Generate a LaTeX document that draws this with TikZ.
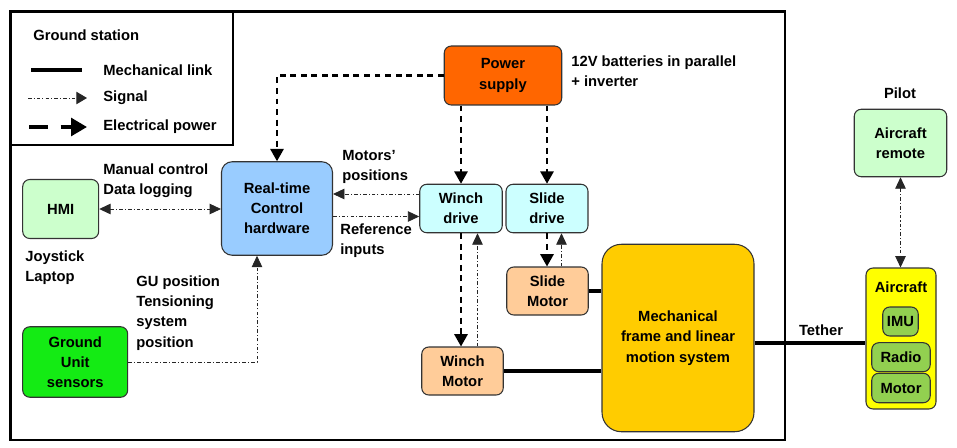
\documentclass[tikz,border=0pt]{standalone}
\usepackage{fontspec}
\setmainfont{Liberation Sans}
\usetikzlibrary{positioning, arrows.meta}
\definecolor{gsorange}{RGB}{255,102,0}
\definecolor{gsblue}{RGB}{153,204,255}
\definecolor{gscyan}{RGB}{204,255,255}
\definecolor{gspeach}{RGB}{255,204,153}
\definecolor{gsgold}{RGB}{255,204,0}
\definecolor{gsmint}{RGB}{204,255,204}
\definecolor{gsgreen}{RGB}{20,235,20}
\definecolor{gsyellow}{RGB}{255,255,0}
\definecolor{gsolive}{RGB}{146,208,80}
\newcommand{\gsfont}{\fontsize{8.4}{11.5}\selectfont\bfseries}
\tikzset{
    block/.style={rectangle, rounded corners=4pt, draw=black!80, fill=#1, line width=0.6pt, align=center, font=\gsfont, inner sep=1pt},
    mech/.style={line width=1.8pt},
    sig/.style={line width=0.5pt, black!85, dash pattern=on 2pt off 1.2pt on 0.6pt off 1.2pt},
    pwr/.style={-{Triangle[length=7pt, width=7.5pt]}, line width=1.3pt, dash pattern=on 3.4pt off 2.6pt},
    txt/.style={font=\gsfont, align=left, anchor=west, inner sep=0pt},
    >={Triangle[length=6.5pt, width=6pt]}
}

\begin{document}
\begin{tikzpicture}[x=0.02cm, y=-0.02cm]
    \useasboundingbox (0,0) rectangle (957,447);
    \draw[line width=1.2pt] (10.5,11.5) rectangle (785,440);
    \draw[line width=0.6pt] (10.5,11.5) rectangle (233,145);

    \node[txt] (gstitle) at (33,35) {Ground station};
    \coordinate (mecha) at (31,70);
    \coordinate (mechb) at (82,70);
    \coordinate (siga) at (28,98);
    \coordinate (sigb) at (87,98);
    \coordinate (pwra) at (29,127);
    \coordinate (pwrb) at (87,127);
    \draw[mech] (mecha) -- (mechb);
    \draw[sig, -{Triangle[length=6pt, width=7pt]}] (siga) -- (sigb);
    \draw[pwr, -{Triangle[length=9pt, width=10pt]}, line width=2pt, dash pattern=on 11pt off 7pt] (pwra) -- (pwrb);
    \node[txt] (lgmech) at (103,70) {Mechanical link};
    \node[txt] (lgsig) at (103,98) {Signal};
    \node[txt] (lgpwr) at (103,127) {Electrical power};

    \node[block=gsorange, minimum width=2.35cm, minimum height=1.18cm] (ps) at (503,75.5) {Power\\supply};
    \node[block=gsblue, rounded corners=6pt, minimum width=2.22cm, minimum height=1.87cm] (rt) at (277,208.5) {Real-time\\Control\\hardware};
    \node[block=gscyan, minimum width=1.65cm, minimum height=0.97cm] (wd) at (461,208.5) {Winch\\drive};
    \node[block=gscyan, minimum width=1.64cm, minimum height=0.97cm] (sd) at (547,208.5) {Slide\\drive};
    \node[block=gspeach, minimum width=1.63cm, minimum height=0.96cm] (sm) at (547.5,291) {Slide\\Motor};
    \node[block=gspeach, minimum width=1.63cm, minimum height=0.96cm] (wm) at (462.5,371) {Winch\\Motor};
    \node[block=gsgold, rounded corners=11pt, minimum width=3.04cm, minimum height=3.75cm] (mf) at (678,338) {Mechanical\\frame and linear\\motion system};
    \node[block=gsmint, minimum width=1.52cm, minimum height=1.18cm] (hmi) at (60.7,209) {HMI};
    \node[block=gsgreen, minimum width=2.1cm, minimum height=1.41cm] (gu) at (75.2,362) {Ground\\Unit\\sensors};
    \node[block=gsmint, minimum width=1.85cm, minimum height=1.35cm] (ar) at (900.5,143) {Aircraft\\remote};
    \node[block=gsyellow, minimum width=1.4cm, minimum height=2.82cm] (ac) at (901,338.5) {};
    \node[font=\gsfont, inner sep=0pt] (actitle) at (901,287) {Aircraft};
    \node[block=gsolive, minimum width=0.71cm, minimum height=0.58cm] (imu) at (900.5,321.5) {IMU};
    \node[block=gsolive, minimum width=1.17cm, minimum height=0.58cm] (radio) at (901,357.2) {Radio};
    \node[block=gsolive, minimum width=1.17cm, minimum height=0.59cm] (motor) at (901,388) {Motor};

    \node[txt] (batlbl) at (571,71) {12V batteries in parallel\\+ inverter};
    \node[txt] (poslbl) at (342,167) {Motors'\\positions};
    \node[txt] (reflbl) at (340,241) {Reference\\inputs};
    \node[txt] (hmilbl) at (103,181) {Manual control\\Data logging};
    \node[txt] (joylbl) at (25,268) {Joystick\\Laptop};
    \node[txt] (gulbl) at (136,313) {GU position\\Tensioning\\system\\position};
    \node[font=\gsfont, inner sep=0pt] (pilotlbl) at (900,93) {Pilot};
    \node[font=\gsfont, inner sep=0pt] (tetherlbl) at (821,330) {Tether};

    \draw[pwr] (ps.west) -| (rt.north);
    \draw[pwr] (ps.south -| wd.north) -- (wd.north);
    \draw[pwr] (ps.south -| sd.north) -- (sd.north);
    \draw[pwr] (wd.south) -- (wd.south |- wm.north);
    \draw[pwr] (sd.south) -- (sd.south |- sm.north);
    \draw[sig, ->] ([yshift=0.29cm]wd.west) -- ([yshift=0.29cm]wd.west -| rt.east);
    \draw[sig, ->] ([yshift=-0.16cm]rt.east) -- ([yshift=-0.16cm]rt.east -| wd.west);
    \draw[sig, ->] ([xshift=0.3cm]wm.north) -- ([xshift=0.3cm]wm.north |- wd.south);
    \draw[sig, ->] ([xshift=0.28cm]sm.north) -- ([xshift=0.28cm]sm.north |- sd.south);
    \draw[sig, <->] (hmi.east) -- (hmi.east -| rt.west);
    \draw[sig, ->] (gu.east) -| ([xshift=-0.4cm]rt.south);
    \draw[sig, <->] (ar.south) -- (ar.south |- ac.north);
    \draw[mech] (sm.east) -- (sm.east -| mf.west);
    \draw[mech] (wm.east) -- (wm.east -| mf.west);
    \draw[mech] ([yshift=-0.1cm]mf.east) -- ([yshift=-0.1cm]mf.east -| ac.west);
\end{tikzpicture}
\end{document}
